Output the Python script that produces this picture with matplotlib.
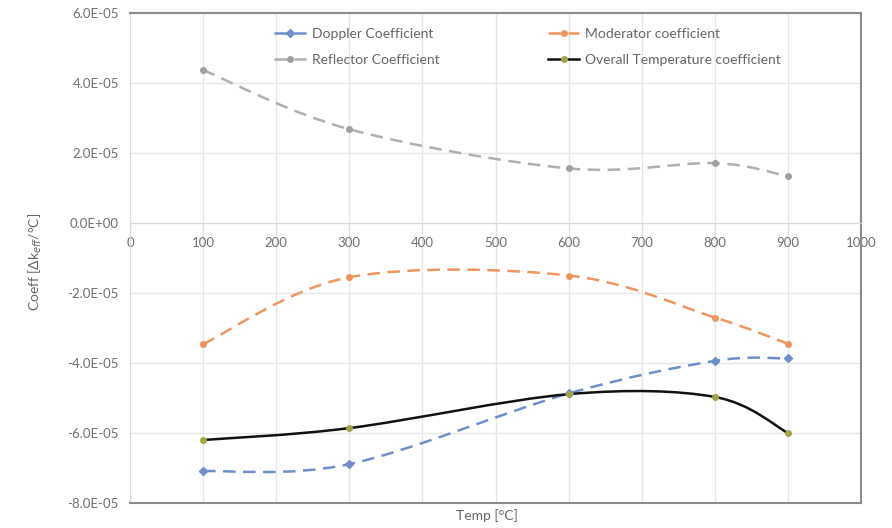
import numpy as np
import matplotlib
matplotlib.use("Agg")
import matplotlib.pyplot as plt
from matplotlib.path import Path
from matplotlib.patches import PathPatch
from matplotlib.lines import Line2D
from matplotlib.ticker import FuncFormatter

plt.rcParams['font.family'] = ['Lato', 'DejaVu Sans']

temp = [100, 300, 600, 800, 900]
doppler = [-7.09e-5, -6.89e-5, -4.87e-5, -3.94e-5, -3.87e-5]
moderator = [-3.46e-5, -1.55e-5, -1.50e-5, -2.70e-5, -3.45e-5]
reflector = [4.37e-5, 2.68e-5, 1.56e-5, 1.71e-5, 1.33e-5]
overall = [-6.20e-5, -5.86e-5, -4.89e-5, -4.97e-5, -6.00e-5]

x_ticks = list(range(0, 1001, 100))
y_ticks = [-8e-5, -6e-5, -4e-5, -2e-5, 0, 2e-5, 4e-5, 6e-5]


def smooth_path(xs, ys):
    # excel-like smoothed line: catmull-rom as cubic bezier
    p = np.column_stack([xs, ys]).astype(float)
    n = len(p)
    verts = [p[0]]
    codes = [Path.MOVETO]
    for i in range(n - 1):
        p0 = p[i - 1] if i > 0 else p[i]
        p3 = p[i + 2] if i + 2 < n else p[i + 1]
        c1 = p[i] + (p[i + 1] - p0) / 6
        c2 = p[i + 1] - (p3 - p[i]) / 6
        verts += [c1, c2, p[i + 1]]
        codes += [Path.CURVE4] * 3
    return Path(verts, codes)


series = [
    ("Doppler Coefficient", doppler, '#6f8fc9', (0, (5, 3)), '#6f8fc9', 'D'),
    ("Moderator coefficient", moderator, '#ee9560', (0, (5, 3)), '#ee9560', 'o'),
    ("Reflector Coefficient", reflector, '#b0b0b0', (0, (5, 3)), '#a0a0a0', 'o'),
    ("Overall Temperature coefficient", overall, '#111111', '-', '#a3a34a', 'o'),
]

fig = plt.figure(figsize=(8.92, 5.28), dpi=100)
ax = fig.add_axes([130 / 892, 1 - 503 / 528, (861 - 130) / 892, (503 - 13) / 528])

handles = []
for name, vals, col, ls, mcol, mk in series:
    patch = PathPatch(smooth_path(temp, vals), facecolor='none', edgecolor=col,
                      lw=1.8, linestyle=ls, transform=ax.transData, zorder=3)
    ax.add_patch(patch)
    ax.plot(temp, vals, linestyle='none', marker=mk, ms=4, color=mcol, zorder=4)
    handles.append(Line2D([0], [0], color=col, lw=1.8, linestyle=ls,
                          marker=mk, ms=4, markerfacecolor=mcol, markeredgecolor=mcol))

ax.set_xlim(0, 1000)
ax.set_ylim(-8e-5, 6e-5)
ax.set_xticks(x_ticks)
ax.set_yticks(y_ticks)

def fmt(v, pos):
    return "%.1E" % v

ax.yaxis.set_major_formatter(FuncFormatter(fmt))
ax.grid(True, color='#e6e6e6', lw=1)
ax.set_axisbelow(True)

ax.spines['bottom'].set_position(('data', 0))
ax.spines['bottom'].set_color('#d9d9d9')
ax.spines['left'].set_color('#d9d9d9')
for s in ['top', 'right']:
    ax.spines[s].set_color('#8c8c8c')
ax.axhline(-8e-5, color='#8c8c8c', lw=1.5, clip_on=False, zorder=5)
ax.spines['top'].set_linewidth(1.5)
ax.spines['right'].set_linewidth(1.5)

ax.tick_params(axis='both', colors='#d9d9d9', labelcolor='#707070', labelsize=9.5)
ax.tick_params(axis='x', direction='out', length=4, pad=6)
ax.tick_params(axis='y', length=0, pad=8)

fig.text(487 / 892, 1 - 516 / 528, "Temp [°C]", ha='center', va='center',
         color='#666666', fontsize=10)
fig.text(35 / 892, 1 - 262 / 528, "Coeff [Δk$_{eff}$/°C]", rotation=90,
         ha='center', va='center', color='#666666', fontsize=10)

# reorder so the legend reads row by row like the original
order = [0, 2, 1, 3]
ax.legend([handles[i] for i in order], [series[i][0] for i in order],
          ncol=2, frameon=False, loc='upper left', bbox_to_anchor=(0.18, 0.995),
          fontsize=10, handlelength=2.3, columnspacing=7.8, labelcolor='#666666',
          handletextpad=0.4, labelspacing=1.0)

fig.savefig("out.png", dpi=100)
